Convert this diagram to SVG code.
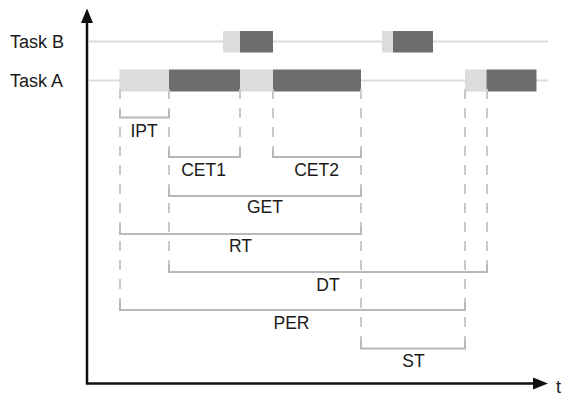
<svg xmlns="http://www.w3.org/2000/svg" width="562" height="399" viewBox="0 0 562 399">
  <style>
    .lbl { font-family: "Liberation Sans", Arial, sans-serif; font-size: 17.5px; fill: #1a1a1a; }
    .task { font-family: "Liberation Sans", Arial, sans-serif; font-size: 18px; fill: #1a1a1a; }
    .track { stroke: #dcdcdc; stroke-width: 2; fill: none; }
    .wait { fill: #dcdcdc; }
    .run { fill: #6e6e6e; }
    .guide { stroke: #c8c8c8; stroke-width: 2; stroke-dasharray: 10 9; fill: none; }
    .span { stroke: #b8b8b8; stroke-width: 2; fill: none; }
    .axis { stroke: #111; stroke-width: 2.5; fill: none; }
  </style>
  <rect width="562" height="399" fill="#ffffff"/>

  <!-- task timelines -->
  <g id="taskB">
    <text class="task" x="10" y="48">Task B</text>
    <line class="track" x1="89" y1="41.5" x2="548" y2="41.5"/>
    <rect class="wait" x="223" y="31" width="17" height="21.5"/>
    <rect class="run" x="240" y="31" width="33" height="21.5"/>
    <rect class="wait" x="382" y="31" width="11" height="21.5"/>
    <rect class="run" x="393" y="31" width="40" height="21.5"/>
  </g>
  <g id="taskA">
    <text class="task" x="10" y="87">Task A</text>
    <line class="track" x1="89" y1="80.5" x2="548" y2="80.5"/>
    <rect class="wait" x="119.5" y="69.5" width="49.5" height="22"/>
    <rect class="run" x="169" y="69.5" width="71" height="22"/>
    <rect class="wait" x="240" y="69.5" width="33" height="22"/>
    <rect class="run" x="273" y="69.5" width="88" height="22"/>
    <rect class="wait" x="465" y="69.5" width="21.5" height="22"/>
    <rect class="run" x="486.5" y="69.5" width="50" height="22"/>
  </g>

  <!-- dashed guides and interval brackets -->
  <g id="connectors">
    <line class="guide" x1="120" y1="89" x2="120" y2="310"/>
    <line class="guide" x1="169" y1="89" x2="169" y2="272"/>
    <line class="guide" x1="240" y1="89" x2="240" y2="157"/>
    <line class="guide" x1="273" y1="89" x2="273" y2="157"/>
    <line class="guide" x1="361" y1="89" x2="361" y2="348"/>
    <line class="guide" x1="465" y1="89" x2="465" y2="348"/>
    <line class="guide" x1="487" y1="89" x2="487" y2="272"/>

    <path class="span" d="M120 110 V117.5 H169 V110"/>
    <path class="span" d="M169 149 V157 H240 V149"/>
    <path class="span" d="M273 149 V157 H361 V149"/>
    <path class="span" d="M169 188 V196 H361 V188"/>
    <path class="span" d="M120 226 V234 H361 V226"/>
    <path class="span" d="M169 264 V272 H487 V264"/>
    <path class="span" d="M120 302 V310 H465 V302"/>
    <path class="span" d="M361 340 V348.5 H465 V340"/>
  </g>

  <g id="labels">
    <text class="lbl" x="144" y="137" text-anchor="middle">IPT</text>
    <text class="lbl" x="203.5" y="175.5" text-anchor="middle">CET1</text>
    <text class="lbl" x="316.5" y="175.5" text-anchor="middle">CET2</text>
    <text class="lbl" x="265" y="213" text-anchor="middle">GET</text>
    <text class="lbl" x="240.5" y="252" text-anchor="middle">RT</text>
    <text class="lbl" x="328" y="290.5" text-anchor="middle">DT</text>
    <text class="lbl" x="291.5" y="329" text-anchor="middle">PER</text>
    <text class="lbl" x="413.5" y="367" text-anchor="middle">ST</text>
  </g>

  <!-- axes -->
  <g id="axes">
    <path class="axis" d="M87 20 V383.5 H536"/>
    <polygon points="87,8.5 81,23 93,23" fill="#111"/>
    <polygon points="548,383.5 533,377.5 533,389.5" fill="#111"/>
    <text class="task" x="556" y="393">t</text>
  </g>
</svg>
